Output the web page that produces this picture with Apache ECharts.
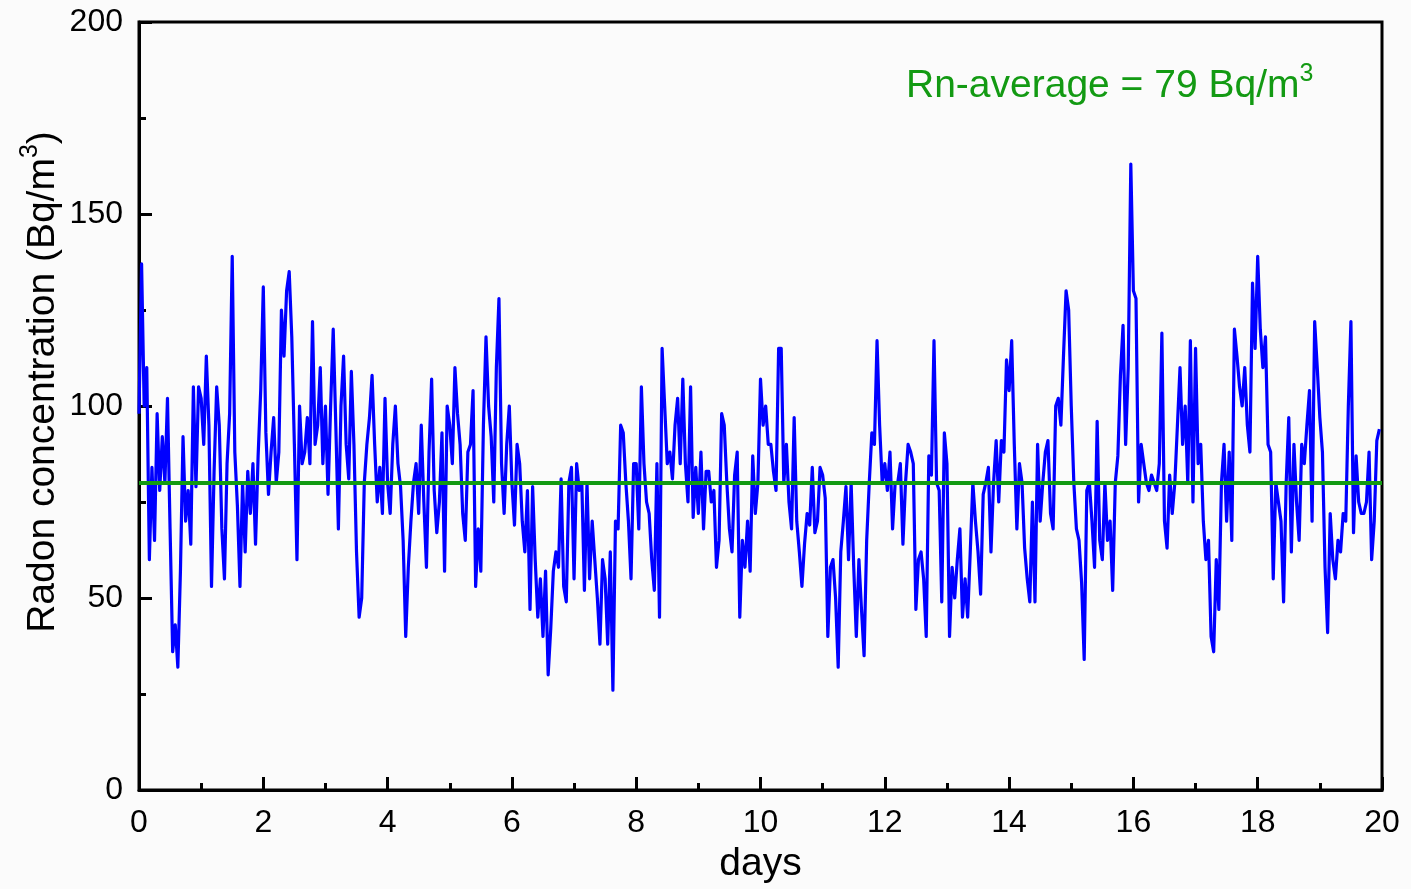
<!DOCTYPE html>
<html>
<head>
<meta charset="utf-8">
<script src="https://cdn.jsdelivr.net/npm/echarts@6/dist/echarts.min.js"></script>
<style>
html,body{margin:0;padding:0;background:#fbfbfb;}
#chart{width:1411px;height:889px;}
</style>
</head>
<body>
<div id="chart"></div>
<script>
// Hourly radon concentration (Bq/m3), one array of 24 values per day
var day00 = [98,137,100,110,60,84,65,98,78,92,80,102,68,36,43,32,57,92,70,78,64,105,79,105];
var day01 = [102,90,113,95,53,83,105,95,68,55,85,98,139,88,74,53,80,62,83,72,85,64,87,104];
var day02 = [131,93,77,88,97,80,88,125,113,130,135,118,90,60,100,85,88,97,85,122,90,95,110,85];
var day03 = [100,77,100,120,95,68,100,113,90,81,109,90,62,45,50,80,90,97,108,90,75,84,72,102];
var day04 = [80,72,90,100,85,79,65,40,58,70,80,85,72,95,75,58,88,107,78,67,75,93,57,100];
var day05 = [95,85,110,98,90,72,65,88,90,104,53,68,57,95,118,100,92,75,110,128,85,72,90,100];
var day06 = [80,69,90,85,70,62,78,47,79,60,45,55,40,57,30,42,57,62,58,81,53,49,80,84];
var day07 = [55,85,78,80,52,80,55,70,60,50,38,60,55,38,62,26,70,68,95,93,80,70,55,85];
var day08 = [85,68,105,85,75,72,60,52,85,45,115,100,85,88,81,95,102,85,107,85,75,105,71,84];
var day09 = [72,88,68,83,83,75,78,58,65,98,95,80,68,62,82,88,45,65,58,70,57,87,72,80];
var day10 = [107,95,100,90,90,83,78,115,115,80,90,75,68,97,70,62,53,64,72,69,84,67,70,84];
var day11 = [82,76,40,58,60,50,32,62,70,79,60,80,58,40,60,47,35,65,80,93,90,117,95,80];
var day12 = [85,78,88,68,80,80,85,64,80,90,88,85,47,60,62,55,40,87,82,117,80,78,49,93];
var day13 = [85,40,58,50,60,68,45,55,45,62,80,70,62,51,77,80,84,62,80,91,75,91,88,112];
var day14 = [104,117,90,68,85,80,63,55,49,75,49,90,70,80,88,91,72,68,100,102,95,113,130,125];
var day15 = [100,80,68,65,54,34,78,80,70,58,96,65,60,80,65,70,52,80,87,108,121,90,110,163];
var day16 = [130,128,75,90,85,80,78,82,80,78,85,119,70,63,82,72,80,95,110,90,100,80,117,75];
var day17 = [115,85,90,70,60,65,40,36,60,47,80,90,70,88,65,120,113,105,100,110,95,88,132,115];
var day18 = [139,120,110,118,90,88,55,80,75,70,49,80,97,62,90,75,65,90,85,95,104,70,122,110];
var day19 = [97,88,58,41,72,60,55,65,62,72,70,100,122,67,87,75,72,72,75,88,60,70,91,94];

var averageLine = 80;
var xTicks = [0, 20, 2];   // min, max, interval (days)
var yTicks = [0, 200, 50]; // min, max, interval

var days = [day00,day01,day02,day03,day04,day05,day06,day07,day08,day09,
            day10,day11,day12,day13,day14,day15,day16,day17,day18,day19];
var seriesData = [];
days.forEach(function (arr, d) {
  arr.forEach(function (v, h) { seriesData.push([d + h / 24, v]); });
});

var FONT = '"Liberation Sans", Arial, sans-serif';
var GREEN = '#139a13';
var chart = echarts.init(document.getElementById('chart'), null, {renderer: 'canvas'});
chart.setOption({
  animation: false,
  backgroundColor: '#fbfbfb',
  grid: {left: 139, right: 29, top: 22, bottom: 97, show: true, borderColor: '#000', borderWidth: 3, backgroundColor: 'transparent'},
  xAxis: {
    type: 'value', min: xTicks[0], max: xTicks[1], interval: xTicks[2],
    name: 'days', nameLocation: 'middle', nameGap: 55,
    nameTextStyle: {fontSize: 39, color: '#000', fontFamily: FONT},
    axisLine: {lineStyle: {color: '#000', width: 3}},
    axisTick: {inside: true, length: 13, lineStyle: {color: '#000', width: 3}},
    minorTick: {show: true, splitNumber: 2, length: 7, lineStyle: {color: '#000', width: 3}},
    axisLabel: {fontSize: 32, color: '#000', margin: 17, fontFamily: FONT},
    splitLine: {show: false}
  },
  yAxis: {
    type: 'value', min: yTicks[0], max: yTicks[1], interval: yTicks[2],
    axisLine: {show: true, lineStyle: {color: '#000', width: 3}},
    axisTick: {show: true, inside: true, length: 13, lineStyle: {color: '#000', width: 3}},
    minorTick: {show: true, splitNumber: 2, length: 7, lineStyle: {color: '#000', width: 3}},
    axisLabel: {fontSize: 32, color: '#000', margin: 16, fontFamily: FONT},
    splitLine: {show: false}
  },
  graphic: [
    {type: 'text', x: 40, y: 382, rotation: Math.PI / 2,
     style: {text: '{a|Radon concentration (Bq/m}{s|3}{a|)}', fill: '#000', align: 'center', verticalAlign: 'middle',
       rich: {a: {fontSize: 39, fontFamily: FONT, fill: '#000', lineHeight: 45, verticalAlign: 'bottom'},
              s: {fontSize: 25, fontFamily: FONT, fill: '#000', lineHeight: 45, verticalAlign: 'top'}}}},
    {type: 'text', x: 906, y: 84,
     style: {text: '{a|Rn-average = 79 Bq/m}{s|3}', fill: GREEN, align: 'left', verticalAlign: 'middle',
       rich: {a: {fontSize: 39, fontFamily: FONT, fill: GREEN, lineHeight: 44, verticalAlign: 'bottom'},
              s: {fontSize: 25, fontFamily: FONT, fill: GREEN, lineHeight: 44, verticalAlign: 'top'}}}}
  ],
  series: [{
    type: 'line', data: seriesData, showSymbol: false,
    lineStyle: {color: '#0000ff', width: 3.2, join: 'round'}, itemStyle: {color: '#0000ff'},
    z: 2,
    markLine: {
      silent: true, symbol: ['none', 'none'], label: {show: false},
      lineStyle: {color: GREEN, width: 4, type: 'solid'},
      data: [{yAxis: averageLine}], z: 3
    }
  }]
});
</script>
</body>
</html>
